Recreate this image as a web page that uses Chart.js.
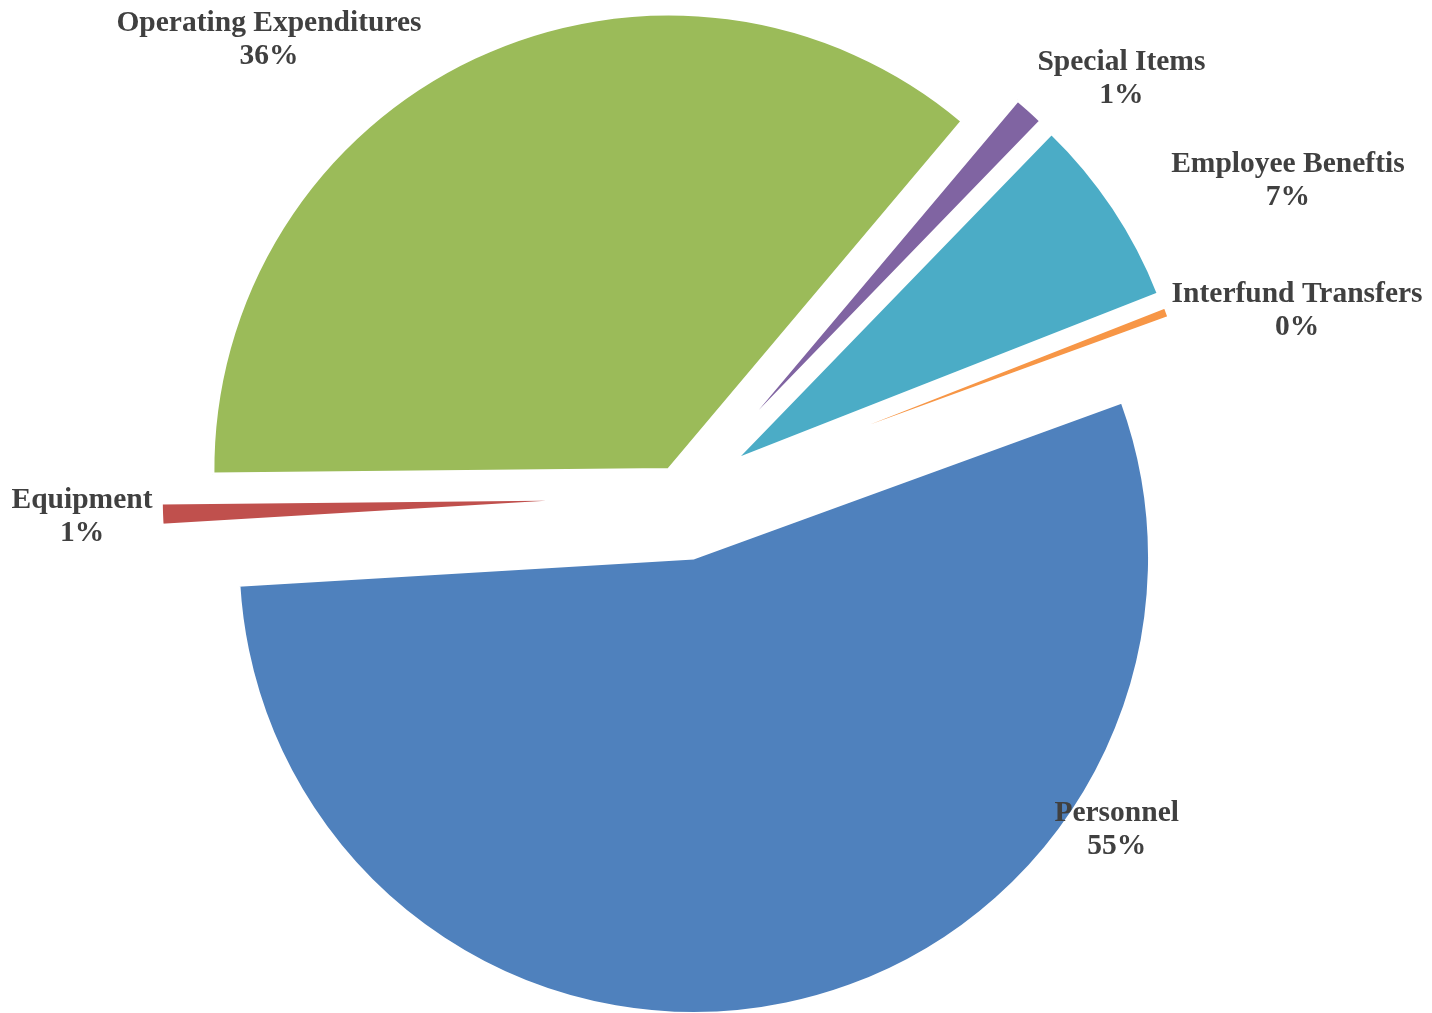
<!DOCTYPE html>
<html>
<head>
<meta charset="utf-8">
<title>Expenditure Breakdown</title>
<script src="https://cdn.jsdelivr.net/npm/chart.js@4.4.0/dist/chart.umd.min.js"></script>
<style>
  html, body { margin: 0; padding: 0; background: #ffffff; }
  #wrap { width: 1432px; height: 1013px; position: relative; }
</style>
</head>
<body>
<div id="wrap"><canvas id="chart"></canvas></div>
<script>
// Spending categories, clockwise from the first slice
const categories = ['Personnel', 'Equipment', 'Operating Expenditures', 'Special Items', 'Employee Beneftis', 'Interfund Transfers'];
// Share of total spending (percent)
const shares = [54.6, 0.8, 36.3, 1.1, 6.8, 0.4];
const sliceColors = ['#4F81BD', '#C0504D', '#9BBB59', '#8064A2', '#4BACC6', '#F79646'];
// How far each slice is pulled out from the centre (px)
const explode = [63, 64, 29, 64, 64, 64];
// Label placement per slice: distance in radii from the slice tip, and turn (deg) from its mid-angle
const labelRadius = [1.103, 1.174, 1.287, 1.190, 1.360, 1.271];
const labelTurn = [-45.5, 0.0, -17.7, 5.0, 6.9, 4.4];

// Draws each arc shifted outward along its own mid-angle
const explodedSlices = {
  id: 'explodedSlices',
  beforeDatasetDraw(chart, args) {
    const ctx = chart.ctx;
    args.meta.data.forEach((arc, i) => {
      const mid = (arc.startAngle + arc.endAngle) / 2;
      const d = explode[i] || 0;
      ctx.save();
      ctx.translate(Math.cos(mid) * d, Math.sin(mid) * d);
      arc.draw(ctx);
      ctx.restore();
    });
    return false;
  }
};

// Two-line category / percentage labels
const sliceLabels = {
  id: 'sliceLabels',
  afterDatasetsDraw(chart) {
    const ctx = chart.ctx;
    const meta = chart.getDatasetMeta(0);
    const data = chart.data.datasets[0].data;
    const total = data.reduce((a, b) => a + b, 0);
    const lineGap = 33;
    ctx.save();
    ctx.font = 'bold 29.5px "Liberation Serif", "Times New Roman", serif';
    ctx.fillStyle = '#404040';
    ctx.textAlign = 'center';
    ctx.textBaseline = 'middle';
    meta.data.forEach((arc, i) => {
      const mid = (arc.startAngle + arc.endAngle) / 2;
      const tipX = arc.x + Math.cos(mid) * explode[i];
      const tipY = arc.y + Math.sin(mid) * explode[i];
      const a = mid + labelTurn[i] * Math.PI / 180;
      const r = arc.outerRadius * labelRadius[i];
      const cx = tipX + Math.cos(a) * r;
      const cy = tipY + Math.sin(a) * r;
      ctx.fillText(chart.data.labels[i], cx, cy - lineGap / 2);
      ctx.fillText(Math.round(data[i] / total * 100) + '%', cx, cy + lineGap / 2);
    });
    ctx.restore();
  }
};

new Chart(document.getElementById('chart'), {
  type: 'pie',
  data: {
    labels: categories,
    datasets: [{
      data: shares,
      backgroundColor: sliceColors,
      borderColor: '#ffffff',
      borderWidth: 3.5
    }]
  },
  options: {
    responsive: true,
    maintainAspectRatio: false,
    animation: false,
    rotation: 70,
    radius: 456,
    layout: { padding: { left: 0, top: 0, right: 70, bottom: 21 } },
    plugins: {
      legend: { display: false },
      tooltip: { enabled: false }
    }
  },
  plugins: [explodedSlices, sliceLabels]
});
</script>
</body>
</html>
